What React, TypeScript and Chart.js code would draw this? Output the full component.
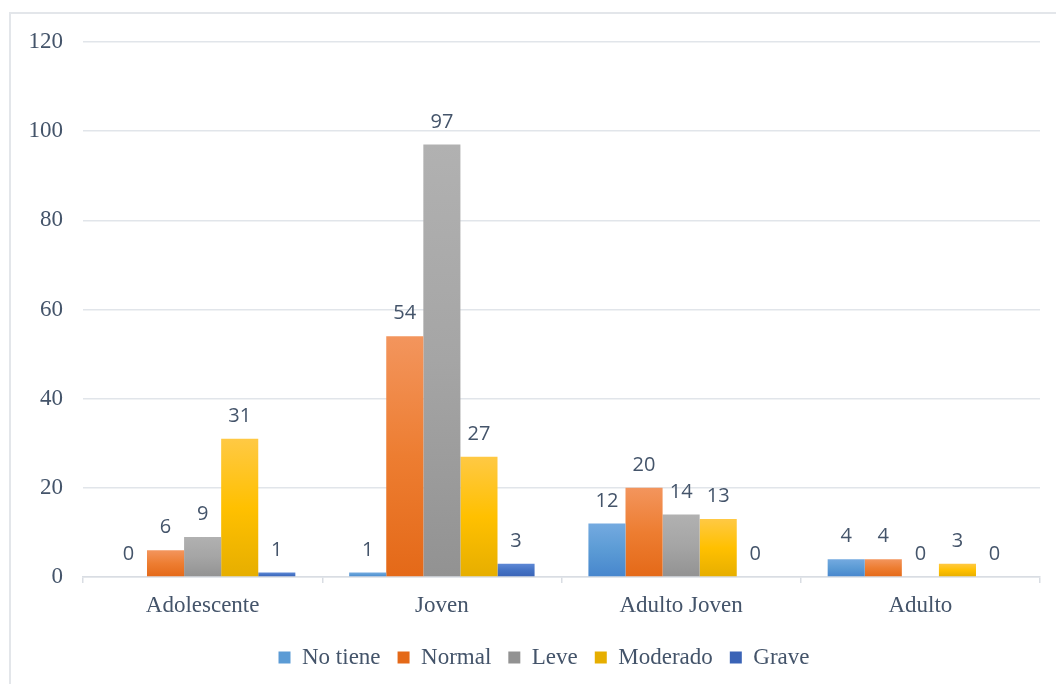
import React, { useEffect, useRef } from "react";
import { Chart, registerables } from "chart.js";

Chart.register(...registerables);

const categories = ["Adolescente", "Joven", "Adulto Joven", "Adulto"];
const noTiene = [0, 1, 12, 4];
const normal = [6, 54, 20, 4];
const leve = [9, 97, 14, 0];
const moderado = [31, 27, 13, 3];
const grave = [1, 3, 0, 0];
const yTicks = [0, 20, 40, 60, 80, 100, 120];

const seriesNames = ["No tiene", "Normal", "Leve", "Moderado", "Grave"];
const seriesValues = [noTiene, normal, leve, moderado, grave];
const seriesColors = [
  ["#74aae0", "#5b9bd5", "#4786cd"],
  ["#f3955d", "#ed7d31", "#e46918"],
  ["#b1b1b1", "#a5a5a5", "#929292"],
  ["#ffc944", "#ffc000", "#e6ae00"],
  ["#5f89d6", "#4472c4", "#3a63b6"],
];

const TEXT = "#44546a";
const SERIF = "'Liberation Serif', 'Times New Roman', serif";

const labelPlugin = {
  id: "barLabels",
  beforeDraw(chart: any) {
    if (chart.legend) chart.legend.left = 48;
  },
  afterDatasetsDraw(chart: any) {
    const ctx = chart.ctx;
    ctx.save();
    ctx.font = "20px 'Open Sans', sans-serif";
    ctx.fillStyle = TEXT;
    ctx.textAlign = "center";
    ctx.textBaseline = "alphabetic";
    chart.data.datasets.forEach((ds: any, i: number) => {
      const meta = chart.getDatasetMeta(i);
      meta.data.forEach((el: any, j: number) => {
        ctx.fillText(String(ds.data[j]), el.x, el.y - 17);
      });
    });
    ctx.restore();
  },
};

export default function App() {
  const ref = useRef<HTMLCanvasElement>(null);
  useEffect(() => {
    if (!ref.current) return;
    const datasets = seriesNames.map((name, i) => {
      const cols = seriesColors[i];
      return {
        label: name,
        data: seriesValues[i],
        backgroundColor: (c: any) => {
          const chart = c.chart;
          if (c.type !== "data" || !chart.chartArea || !chart.scales.y) return cols[1];
          const ys = chart.scales.y;
          const top = ys.getPixelForValue(c.parsed.y);
          const bottom = ys.getPixelForValue(0);
          if (!(bottom - top > 1)) return cols[1];
          const g = chart.ctx.createLinearGradient(0, top, 0, bottom);
          g.addColorStop(0, cols[0]);
          g.addColorStop(0.5, cols[1]);
          g.addColorStop(1, cols[2]);
          return g;
        },
        borderWidth: 0,
        categoryPercentage: 0.775,
        barPercentage: 1,
      };
    });
    const chart = new Chart(ref.current, {
      type: "bar",
      data: { labels: categories, datasets },
      options: {
        responsive: false,
        animation: false,
        layout: { padding: { left: 10, right: 16, top: 42, bottom: 5 } },
        plugins: {
          tooltip: { enabled: false },
          legend: {
            position: "bottom",
            labels: {
              boxWidth: 12,
              boxHeight: 12,
              padding: 17,
              color: TEXT,
              font: { family: SERIF, size: 23 },
            },
          },
        },
        scales: {
          x: {
            grid: {
              offset: true,
              drawOnChartArea: false,
              drawTicks: true,
              tickLength: 6,
              color: "#d9dde3",
              lineWidth: 1.5,
            },
            border: { display: true, color: "#d9dde3", width: 1.5 },
            ticks: { color: TEXT, font: { family: SERIF, size: 23 }, padding: 9 },
            afterFit: (s: any) => {
              s.height = 52;
            },
          },
          y: {
            min: 0,
            max: 120,
            afterBuildTicks: (s: any) => {
              s.ticks = yTicks.map((v) => ({ value: v }));
            },
            grid: { drawTicks: false, color: "#e1e5ea", lineWidth: 1.5 },
            border: { display: false },
            ticks: { color: TEXT, font: { family: SERIF, size: 23 }, padding: 20 },
            afterFit: (s: any) => {
              s.width = 73;
            },
          },
        },
      },
      plugins: [labelPlugin],
    });
    return () => chart.destroy();
  }, []);

  return (
    <div
      style={{
        position: "fixed",
        left: 0,
        top: 0,
        width: 1056,
        height: 684,
        overflow: "hidden",
        background: "#fff",
      }}
    >
      <div
        style={{
          position: "absolute",
          left: 9,
          top: 12,
          width: 1100,
          height: 720,
          border: "2px solid #e3e6ea",
        }}
      />
      <canvas
        ref={ref}
        width={1056}
        height={684}
        style={{ position: "absolute", left: 0, top: 0 }}
      />
    </div>
  );
}
